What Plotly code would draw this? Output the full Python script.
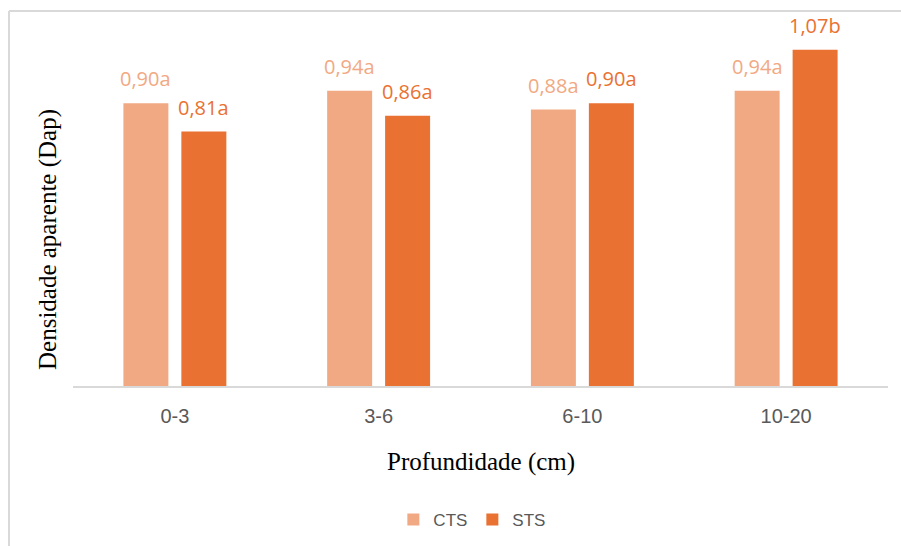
import plotly.graph_objects as go

# Soil bulk density by depth, with/without treatment
depths = ["0-3", "3-6", "6-10", "10-20"]
cts_values = [0.90, 0.94, 0.88, 0.94]
sts_values = [0.81, 0.86, 0.90, 1.07]
cts_letters = ["a", "a", "a", "a"]
sts_letters = ["a", "a", "a", "b"]

CTS_COLOR = "#F1A983"
STS_COLOR = "#E97132"

W, H = 901, 546
ML, MR, MT, MB = 73, 13, 9, 160
PW, PH = W - ML - MR, H - MT - MB
BAR_OFFSET = 29  # horizontal distance from category centre to each bar centre (px)


def px_x(x):
    return (x - ML) / PW


def px_y(y):
    return (H - MB - y) / PH


def fmt(v, letter):
    return f"{v:.2f}".replace(".", ",") + letter


fig = go.Figure()
labels = []
for name, vals, letters, color, side in [
    ("CTS", cts_values, cts_letters, CTS_COLOR, -1),
    ("STS", sts_values, sts_letters, STS_COLOR, 1),
]:
    fig.add_trace(go.Bar(
        name=name, x=depths, y=vals,
        marker=dict(color=color, line=dict(width=0)),
        hovertemplate="%{x}: %{y:.2f}<extra>" + name + "</extra>",
    ))
    # value labels with significance letters above each bar
    for d, v, l in zip(depths, vals, letters):
        labels.append(dict(
            x=d, y=v, xref="x", yref="y", text=fmt(v, l),
            xshift=side * BAR_OFFSET, yshift=9,
            xanchor="center", yanchor="bottom", showarrow=False,
            font=dict(family="Open Sans", size=20, color=color),
        ))

fig.update_layout(
    width=W, height=H,
    margin=dict(l=ML, r=MR, t=MT, b=MB, autoexpand=False),
    paper_bgcolor="white", plot_bgcolor="white",
    barmode="group", bargap=0.431, bargroupgap=0.224,
    showlegend=True,
    legend=dict(
        orientation="h", x=0.49, xanchor="center",
        y=px_y(520), yanchor="middle",
        font=dict(family="Liberation Sans", size=17, color="#595959"),
        itemwidth=30, traceorder="normal",
    ),
    xaxis=dict(
        showline=True, linecolor="#D9D9D9", linewidth=2,
        showgrid=False, ticks="", zeroline=False,
        tickfont=dict(family="Liberation Sans", size=20, color="#595959"),
        ticklabelstandoff=11,
    ),
    yaxis=dict(
        range=[0, 1.2], visible=False, showgrid=False, zeroline=False,
    ),
    annotations=labels + [
        dict(text="Profundidade (cm)", xref="paper", yref="paper",
             x=0.5, y=px_y(462), xanchor="center", yanchor="middle",
             showarrow=False,
             font=dict(family="Liberation Serif", size=25, color="black")),
        dict(text="Densidade aparente (Dap)", xref="paper", yref="paper",
             x=px_x(48), y=px_y(240), xanchor="center", yanchor="middle",
             textangle=-90, showarrow=False,
             font=dict(family="Liberation Serif", size=25, color="black")),
    ],
    shapes=[
        dict(type="line", xref="paper", yref="paper",
             x0=px_x(9), x1=px_x(9), y0=px_y(11), y1=px_y(560),
             line=dict(color="#D9D9D9", width=2)),
        dict(type="line", xref="paper", yref="paper",
             x0=px_x(9), x1=px_x(920), y0=px_y(11), y1=px_y(11),
             line=dict(color="#D9D9D9", width=2)),
    ],
)

fig.write_html("out.html")
